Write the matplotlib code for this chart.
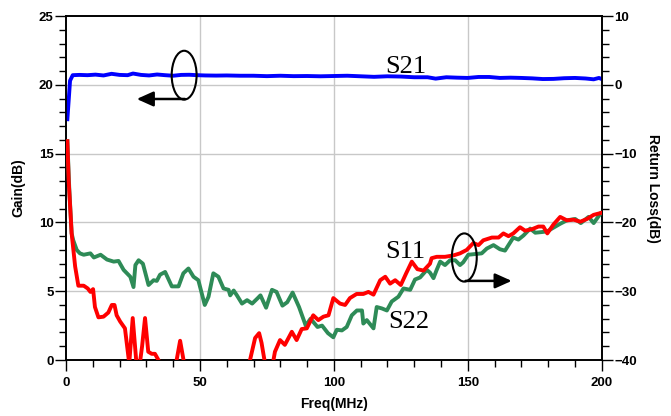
import matplotlib
matplotlib.use("Agg")
import matplotlib.pyplot as plt
from matplotlib.patches import Ellipse, FancyArrowPatch
from matplotlib.ticker import MultipleLocator

# ---------------- data ----------------
s21_freq = [0.5, 1.5, 2.5, 5, 8, 11, 14, 17, 20, 23, 25, 28, 31, 34, 37, 40, 43, 46, 49, 52,
            56, 60, 65, 70, 75, 80, 85, 90, 95, 100, 105, 110, 115, 120, 125, 130, 135, 138,
            142, 146, 150, 154, 158, 162, 166, 170, 174, 178, 182, 186, 190, 194, 197, 199, 200]
s21_gain = [17.5, 20.3, 20.7, 20.72, 20.7, 20.74, 20.68, 20.8, 20.72, 20.7, 20.82, 20.72, 20.68,
            20.75, 20.7, 20.66, 20.72, 20.73, 20.7, 20.68, 20.67, 20.68, 20.66, 20.66, 20.63,
            20.66, 20.63, 20.64, 20.62, 20.64, 20.66, 20.62, 20.58, 20.62, 20.6, 20.55, 20.55,
            20.45, 20.55, 20.52, 20.5, 20.57, 20.57, 20.5, 20.52, 20.5, 20.47, 20.42, 20.43,
            20.48, 20.5, 20.46, 20.4, 20.5, 20.42]

s11_freq = [0.5, 1.0, 2.1, 3.4, 4.6, 6.6, 8.1, 9.1, 10.1, 10.8, 12.1, 14.0, 15.8, 17.1, 18.1,
            18.9, 20.2, 22.0, 23.6, 24.9, 26.4, 27.4, 28.4, 29.5, 30.7, 32.0, 33.2, 34.5, 36.0,
            40.5, 41.3, 42.6, 44.1, 45.0, 68.0, 68.7, 70.6, 72.1, 73.0, 74.3, 77.0, 78.0, 79.9,
            81.7, 84.3, 86.1, 88.0, 89.9, 92.3, 94.2, 96.1, 98.0, 99.8, 102.3, 104.2, 106.0,
            108.5, 111.0, 112.9, 114.8, 117.3, 119.2, 121.0, 122.9, 125.0, 127.0, 129.1, 131.2,
            133.5, 135.9, 136.5, 138.4, 141.5, 144.6, 147.1, 149.6, 152.1, 154.0, 155.8, 159.0,
            161.5, 163.3, 165.2, 167.0, 169.5, 171.4, 173.9, 176.4, 178.2, 179.7, 182.0, 184.5,
            187.0, 189.5, 192.0, 194.5, 197.0, 200.0]
s11_rl = [-8.2, -14.0, -21.6, -26.4, -29.2, -29.2, -29.6, -30.1, -29.7, -32.3, -33.8, -33.7,
          -33.1, -32.0, -32.0, -33.5, -34.4, -35.4, -40.5, -33.9, -41.0, -41.0, -38.0, -33.9,
          -38.8, -39.1, -39.1, -40.0, -42.0, -42.0, -40.0, -37.2, -40.5, -42.0, -42.0, -40.0,
          -36.8, -36.1, -37.5, -40.5, -41.0, -38.8, -37.1, -37.8, -35.9, -37.1, -35.5, -35.4,
          -33.5, -34.2, -33.7, -33.5, -31.0, -31.8, -32.0, -31.0, -30.4, -30.4, -30.1, -30.5,
          -28.4, -27.9, -28.9, -28.4, -29.1, -27.4, -25.7, -26.8, -27.0, -26.0, -25.2, -25.0,
          -25.0, -24.8, -24.5, -24.0, -23.0, -23.3, -22.6, -22.2, -22.2, -21.6, -22.0, -21.6,
          -20.7, -21.2, -21.0, -20.6, -20.6, -21.6, -20.3, -19.2, -19.7, -19.6, -19.9, -19.5,
          -18.9, -18.6]

s22_freq = [0.5, 1.2, 2.1, 2.7, 4.0, 5.2, 6.6, 9.1, 10.4, 12.9, 15.3, 17.8, 19.6, 21.5, 24.0,
            25.2, 25.9, 27.1, 28.7, 30.8, 32.7, 33.9, 35.1, 37.0, 39.5, 42.0, 43.8, 45.7, 47.6,
            49.4, 51.8, 53.2, 55.0, 56.9, 58.8, 60.7, 61.3, 62.6, 63.8, 65.7, 67.6, 69.5, 71.6,
            72.6, 74.7, 76.9, 78.6, 80.8, 82.6, 84.6, 87.0, 89.5, 91.3, 93.9, 95.6, 97.8, 99.8,
            101.1, 103.0, 104.8, 106.7, 108.6, 110.5, 111.0, 112.3, 114.8, 116.0, 117.9, 119.8,
            121.6, 124.1, 126.0, 128.5, 130.3, 132.2, 134.7, 135.9, 137.2, 138.4, 139.7, 141.5,
            143.4, 145.3, 147.1, 148.3, 150.2, 152.7, 155.2, 157.1, 159.6, 162.0, 163.9, 167.0,
            168.9, 170.8, 173.3, 175.2, 177.7, 179.7, 181.4, 184.5, 187.0, 190.1, 192.2, 195.1,
            197.0, 199.6]
s22_rl = [-8.2, -15.0, -21.6, -22.6, -24.0, -24.5, -24.7, -24.5, -25.1, -24.7, -25.4, -25.7,
          -25.6, -26.9, -27.9, -29.4, -26.2, -25.5, -26.0, -29.1, -28.4, -28.5, -27.6, -27.2,
          -29.3, -29.3, -27.4, -26.7, -27.9, -28.4, -32.0, -30.8, -27.4, -27.9, -29.6, -29.8,
          -30.6, -29.9, -30.6, -31.8, -31.3, -31.8, -31.0, -30.6, -32.4, -29.8, -30.1, -32.1,
          -31.6, -30.2, -32.3, -35.0, -34.0, -35.2, -35.0, -36.1, -36.7, -35.6, -35.7, -35.2,
          -33.5, -32.8, -32.8, -34.7, -34.2, -35.4, -32.3, -32.5, -32.8, -31.5, -30.8, -29.6,
          -29.8, -28.3, -28.0, -26.9, -27.3, -28.1, -26.9, -25.7, -26.2, -25.5, -25.5, -26.2,
          -25.8, -24.7, -24.6, -24.5, -23.8, -23.3, -23.9, -24.1, -22.2, -22.5, -21.9, -20.9,
          -21.5, -21.4, -21.3, -20.9, -20.2, -19.7, -19.5, -20.1, -19.2, -20.1, -18.7]

x_ticks = [0, 50, 100, 150, 200]
gain_ticks = [0, 5, 10, 15, 20, 25]
rl_ticks = [-40, -30, -20, -10, 0, 10]

# ---------------- figure ----------------
plt.rcParams['font.family'] = ['Liberation Sans', 'DejaVu Sans']
plt.rcParams['font.weight'] = 'bold'
fig = plt.figure(figsize=(6.71, 4.16), dpi=100)
ax = fig.add_axes([0.0984, 0.1346, 0.7983, 0.8269])
ax2 = ax.twinx()

ax.set_xlim(0, 200)
ax.set_ylim(0, 25)
ax2.set_ylim(-40, 10)

grid_c = '#c8c8c8'
for xv in x_ticks[1:-1]:
    ax.axvline(xv, color=grid_c, lw=1.0, zorder=0)
for yv in gain_ticks[1:-1]:
    ax.axhline(yv, color=grid_c, lw=1.0, zorder=0)

ax.plot(s21_freq, s21_gain, color='#0000ff', lw=2.8, solid_joinstyle='round', zorder=3)
ax2.plot(s22_freq, s22_rl, color='#2e8b57', lw=2.8, solid_joinstyle='round', zorder=3)
ax2.plot(s11_freq, s11_rl, color='#ff0000', lw=2.8, solid_joinstyle='round', zorder=3)

# ticks
ax.set_xticks(x_ticks)
ax.xaxis.set_minor_locator(MultipleLocator(10))
ax.set_yticks(gain_ticks)
ax.yaxis.set_minor_locator(MultipleLocator(1))
ax2.set_yticks(rl_ticks)
ax2.yaxis.set_minor_locator(MultipleLocator(2))

for a in (ax, ax2):
    a.tick_params(which='major', direction='out', length=8, width=1.0, labelsize=9.5, pad=1)
    a.tick_params(which='minor', direction='out', length=5, width=1.0)
    for s in a.spines.values():
        s.set_linewidth(1.2)
        s.set_color('black')
ax.tick_params(axis='x', pad=4)

ax.set_xlabel('Freq(MHz)', fontsize=10, fontweight='bold', labelpad=6)
ax.set_ylabel('Gain(dB)', fontsize=10, fontweight='bold')
ax2.set_ylabel('Return Loss(dB)', fontsize=10, fontweight='bold', rotation=270)
ax.yaxis.set_label_coords(-0.075, 0.5)
ax2.yaxis.set_label_coords(1.109, 0.5)

# annotations (drawn on return-loss axis, RL = 2*gain - 40)
serif = ['Liberation Serif', 'DejaVu Serif']
for txt, fx, ry in (('S21', 119.1, 1.7), ('S11', 119.1, -25.2), ('S22', 120.2, -35.3)):
    ax2.text(fx, ry, txt, fontsize=19, family=serif, fontweight='normal',
             va='baseline', ha='left', zorder=5)

ax2.add_patch(Ellipse((44.1, 1.4), 9.3, 7.1, fill=False, ec='black', lw=1.5, zorder=6))
ax2.add_patch(Ellipse((148.7, -25.1), 9.3, 7.0, fill=False, ec='black', lw=1.5, zorder=6))

arrow_style = '-|>,head_length=1.0,head_width=0.45'
ax2.add_patch(FancyArrowPatch((44.4, -2.06), (26.4, -2.06), arrowstyle=arrow_style,
                              mutation_scale=10, color='black', lw=1.8,
                              shrinkA=0, shrinkB=0, zorder=6))
ax2.add_patch(FancyArrowPatch((149.2, -28.5), (166.4, -28.5), arrowstyle=arrow_style,
                              mutation_scale=10, color='black', lw=1.8,
                              shrinkA=0, shrinkB=0, zorder=6))

fig.savefig('out.png', dpi=100)
